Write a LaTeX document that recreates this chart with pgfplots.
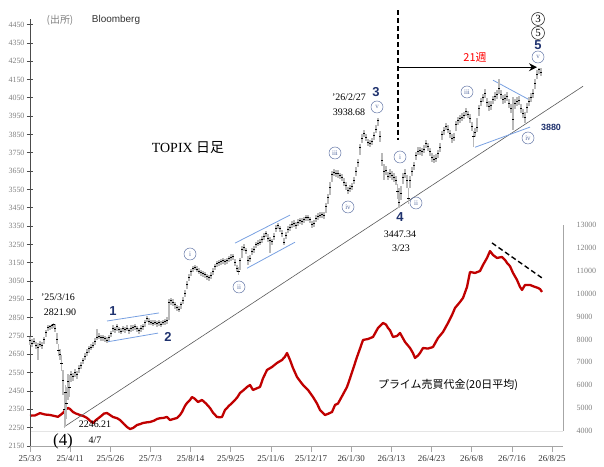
\documentclass[border=0pt]{standalone}
\usepackage{fontspec}
\setmainfont{Liberation Serif}
\newfontfamily\sans{Liberation Sans}
\newfontfamily\cjk{Noto Sans CJK JP}
\usepackage{pgfplots}
\usepackage{pgfplotstable}
\pgfplotsset{compat=1.18}
\usetikzlibrary{arrows.meta}
\definecolor{redline}{RGB}{192,0,0}
\definecolor{wblue}{RGB}{31,50,110}
\definecolor{cblue}{RGB}{95,115,165}
\definecolor{chan}{RGB}{120,160,225}

\pgfplotstableread{
x c l h
30 2728 2700 2745
32 2712 2690 2735
34 2722 2705 2740
36 2700 2680 2718
38 2690 2620 2712
40 2705 2688 2722
42 2698 2680 2720
44 2730 2705 2745
46 2772 2745 2785
48 2795 2775 2808
50 2800 2785 2812
52 2808 2790 2818
53.5 2815 2795 2822
55 2790 2770 2815
57 2732 2705 2765
58.5 2670 2640 2705
60 2650 2620 2680
61.5 2600 2560 2645
63 2510 2430 2565
64.2 2350 2246 2440
65.4 2440 2262 2485
66.6 2380 2300 2470
68 2500 2400 2545
69.5 2470 2420 2535
71 2540 2500 2560
73 2528 2505 2550
75 2550 2525 2568
77 2540 2515 2560
79 2575 2550 2590
81 2590 2570 2610
83 2615 2595 2632
85 2640 2620 2655
87 2660 2640 2678
89 2680 2660 2695
91 2690 2672 2708
93 2700 2682 2718
95 2722 2700 2740
97 2745 2728 2790
99 2750 2732 2768
101 2740 2722 2755
103 2740 2725 2755
105 2735 2718 2750
107 2728 2712 2745
109 2740 2722 2758
111 2765 2745 2780
113 2790 2770 2808
115 2785 2765 2800
117 2800 2780 2815
119 2785 2765 2800
121 2778 2760 2795
123 2790 2772 2805
125 2785 2765 2800
127 2792 2775 2808
129 2780 2760 2795
131 2790 2770 2808
133 2795 2778 2810
135 2800 2782 2815
137 2790 2770 2805
139 2780 2762 2795
141 2790 2772 2808
143 2800 2782 2815
145 2822 2802 2838
147 2848 2828 2862
149 2832 2812 2848
151 2825 2808 2840
153 2820 2805 2835
155 2825 2808 2840
157 2818 2802 2832
159 2822 2806 2838
161 2816 2800 2830
163 2825 2808 2840
165 2828 2810 2842
167 2838 2818 2855
169 2932 2840 2950
171 2942 2920 2958
173 2935 2915 2952
175 2920 2900 2938
177 2905 2885 2922
179 2898 2880 2915
181 2920 2900 2938
183 2946 2925 2962
185 2985 2965 3002
187 3030 3005 3048
189 3070 3048 3088
191 3100 3080 3115
193 3118 3100 3132
195 3125 3108 3140
197 3115 3098 3130
199 3105 3088 3120
201 3098 3080 3112
203 3090 3072 3105
205 3085 3068 3100
207 3075 3058 3090
209 3068 3050 3085
211 3080 3062 3098
213 3105 3085 3122
215 3130 3110 3145
217 3145 3128 3160
219 3150 3132 3165
221 3155 3138 3170
223 3162 3145 3178
225 3155 3138 3170
227 3160 3142 3175
229 3172 3155 3188
231 3180 3162 3195
233 3185 3165 3200
235 3150 3130 3170
237 3120 3100 3140
238.5 3100 3082 3128
240 3160 3110 3178
242 3225 3175 3240
244 3235 3215 3250
246 3215 3195 3232
248 3160 3140 3185
250 3175 3155 3192
252 3210 3190 3228
254 3225 3205 3242
256 3250 3230 3265
258 3258 3240 3275
260 3262 3245 3280
262 3280 3260 3298
264 3295 3275 3312
266 3310 3290 3325
268 3285 3265 3305
270 3270 3205 3290
272 3265 3245 3282
274 3295 3272 3312
276 3340 3318 3358
278 3352 3332 3368
280 3335 3315 3352
282 3310 3290 3328
284 3262 3245 3285
286 3300 3278 3318
288 3330 3310 3348
290 3345 3325 3362
292 3360 3340 3375
294 3365 3345 3382
296 3355 3335 3372
298 3370 3350 3388
300 3380 3362 3395
302 3375 3355 3392
304 3385 3365 3402
306 3398 3378 3412
308 3395 3375 3410
310 3385 3365 3402
312 3360 3340 3378
314 3365 3345 3385
316 3392 3372 3408
318 3405 3385 3420
320 3410 3392 3425
322 3412 3395 3428
324 3408 3390 3425
326 3455 3420 3475
328 3505 3470 3525
330 3560 3520 3590
332 3630 3590 3650
334 3645 3625 3662
336 3640 3618 3658
338 3638 3615 3655
340 3625 3605 3642
342 3615 3595 3632
344 3590 3570 3610
346 3570 3548 3590
348 3545 3525 3565
350 3555 3535 3575
352 3565 3545 3585
354 3600 3578 3620
356 3650 3625 3672
358 3695 3670 3718
360 3780 3740 3800
362 3830 3805 3850
364 3855 3835 3872
366 3835 3815 3855
368 3805 3785 3825
370 3800 3780 3820
372 3810 3790 3830
374 3845 3822 3865
376 3880 3858 3900
378 3925 3895 3939
380 3840 3810 3870
382 3710 3680 3750
384 3650 3600 3690
386 3655 3630 3680
388 3620 3600 3645
390 3640 3615 3660
392 3625 3600 3648
394 3615 3590 3640
396 3600 3575 3625
397.5 3540 3500 3580
399 3480 3447 3560
401 3530 3490 3570
403 3615 3580 3640
405 3640 3615 3660
407 3600 3560 3630
408.5 3500 3470 3560
410 3600 3560 3625
412 3650 3625 3672
414 3680 3655 3702
416 3735 3708 3755
418 3760 3738 3780
420 3762 3740 3782
422 3755 3732 3775
424 3770 3748 3790
426 3800 3778 3820
428 3785 3762 3805
430 3755 3732 3775
432 3725 3702 3748
434 3715 3692 3738
436 3722 3700 3745
438 3745 3722 3765
440 3780 3755 3802
442 3850 3820 3870
444 3870 3848 3890
446 3895 3872 3915
448 3880 3858 3900
450 3855 3832 3875
452 3830 3805 3852
454 3835 3812 3858
456 3905 3870 3925
458 3925 3902 3945
460 3935 3912 3955
462 3945 3922 3965
464 3955 3932 3975
466 3975 3952 3995
468 3960 3938 3980
470 3940 3915 3962
472 3895 3870 3920
473.5 3840 3780 3870
475 3860 3835 3885
477 3890 3865 3940
479 3990 3950 4010
481 4030 4005 4050
483 4050 4025 4070
485 4075 4050 4100
487 4025 4000 4050
489 4005 3980 4030
491 4010 3985 4035
493 4040 4015 4062
495 4060 4035 4082
497 4070 4045 4095
499 4100 4070 4150
501 4070 4045 4095
503 4040 4015 4065
505 4045 4020 4070
507 4055 4030 4080
509 4020 3995 4045
511 3990 3965 4015
513 3930 3873 4054
515 4020 3990 4045
517 4030 4005 4055
519 4035 4010 4058
521 3990 3965 4015
523 3965 3940 3990
525 3945 3915 3975
527 3995 3965 4020
529 4030 4005 4055
531 4050 4025 4075
533 4075 4050 4100
535 4130 4100 4155
537 4180 4150 4200
539 4205 4180 4215
541 4190 4170 4210
}\price

\pgfplotstableread{
x v
30 4670
35 4680
40 4780
45 4720
50 4700
55 4650
58 4620
61 4720
63 4790
66 4950
68 5005
70 4960
73 4830
76 4760
80 4700
84 4640
87 4570
90 4450
93 4350
96 4480
100 4612
104 4760
107 4787
110 4700
113 4612
117 4560
120 4480
124 4300
127 4175
130 4087
133 4130
137 4262
140 4300
143 4350
147 4380
150 4393
154 4450
157 4524
160 4560
163 4568
167 4612
170 4480
173 4520
177 4568
180 4700
182 4830
185 5100
187 5223
190 5354
192 5486
195 5400
198 5267
202 5355
206 5200
210 5005
213 4800
217 4612
220 4600
222 4612
225 4918
229 5100
233 5267
237 5450
240 5660
244 5800
247 5923
250 6010
253 5792
256 5850
260 5923
263 6300
267 6666
272 6797
277 6972
282 7103
285 7250
287 7409
290 7103
293 6750
297 6360
300 6180
303 6010
308 5792
313 5486
317 5200
320 4918
323 4787
325 4700
328 4750
332 4830
335 5136
338 5200
343 5600
347 5923
350 6300
353 6700
357 7234
360 7600
363 7977
368 8020
373 8108
378 8501
383 8720
386 8650
388 8501
390 8400
393 8108
397 8150
400 8283
405 7890
410 7627
413 7400
415 7190
418 7300
420 7409
423 7627
428 7600
433 7671
438 8064
443 8326
448 8720
452 9069
455 9375
460 9637
463 9812
467 10293
470 10948
475 10905
480 10990
483 11254
487 11560
490 11860
493 11691
497 11560
502 11604
505 11473
507 11342
510 11200
513 10905
517 10599
520 10293
522 10162
525 10380
530 10380
535 10293
538 10250
540 10200
542 10075
}\turnover

\newcommand{\cir}[3]{\node[circle, draw=cblue, text=cblue, line width=0.5pt, inner sep=0pt, minimum size=12bp, font=\fontsize{7}{7}\selectfont] at (#1,#2) {#3};}
\newcommand{\bcir}[3]{\node[circle, draw=black!80, text=black, line width=0.6pt, inner sep=0pt, minimum size=13bp, font=\fontsize{11}{11}\selectfont] at (#1,#2) {#3};}

\begin{document}
\begin{tikzpicture}[x=1bp,y=1bp]
\useasboundingbox (0,0) rectangle (604,467);

% secondary axis: turnover
\begin{axis}[at={(30bp,36bp)}, anchor=south west, scale only axis,
  width=533bp, height=206bp, xmin=30, xmax=563, ymin=4000, ymax=13000,
  axis y line*=right, axis x line*=bottom,
  x axis line style={draw=gray!20, line width=0.8pt, -},
  y axis line style={draw=gray!70, line width=1pt, -},
  xtick=\empty, ytick={4000,5000,...,13000},
  scaled y ticks=false,
  major tick length=0pt,
  yticklabel style={font=\fontsize{8}{9}\selectfont, text=gray, xshift=10bp},
  /pgf/number format/1000 sep={}, /pgf/number format/assume math mode=true,
  clip=false]
\addplot[redline, line width=2.3pt, line join=round] table[x=x, y=v] {\turnover};
\addplot[black, line width=1.4pt, dash pattern=on 5pt off 3pt] coordinates {(492,12216) (542,10686)};
\end{axis}

% main axis: TOPIX
\begin{axis}[at={(30bp,21bp)}, anchor=south west, scale only axis,
  width=533bp, height=427bp, xmin=30, xmax=563, ymin=2150, ymax=4480,
  axis x line*=bottom, axis y line*=left,
  x axis line style={draw=gray!70, line width=0.8pt, -},
  y axis line style={draw=black!70, line width=0.8pt, -},
  ytick={2150,2250,...,4450},
  xtick={30,70.15,110.3,150.45,190.6,230.75,270.9,311.05,351.2,391.35,431.5,471.65,511.8,551.95},
  xticklabels={25/3/3,25/4/11,25/5/26,25/7/3,25/8/14,25/9/25,25/11/6,25/12/17,26/1/30,26/3/13,26/4/23,26/6/8,26/7/16,26/8/25},
  y tick style={draw=black!70, line width=0.6pt},
  x tick style={draw=gray!70, line width=0.6pt},
  ytick align=center, xtick align=outside,
  major tick length=6bp,
  yticklabel style={font=\fontsize{8}{9}\selectfont, text=gray, xshift=1bp},
  xticklabel style={font=\fontsize{9}{10}\selectfont, text=black!80},
  /pgf/number format/1000 sep={}, /pgf/number format/assume math mode=true,
  clip=false]
% trend line
\addplot[black!65, line width=0.6pt] coordinates {(64,2254) (583,4113)};
% channels
\addplot[chan, line width=0.8pt] coordinates {(107,2832) (159,2876)};
\addplot[chan, line width=0.8pt] coordinates {(107,2718) (158,2766)};
\addplot[chan, line width=0.8pt] coordinates {(235,3257) (290,3410)};
\addplot[chan, line width=0.8pt] coordinates {(247,3120) (295,3262)};
\addplot[chan, line width=0.8pt] coordinates {(493,4146) (530,4037)};
\addplot[chan, line width=0.8pt] coordinates {(475,3780) (530,3890)};
% candles
\addplot[only marks, mark=-, mark size=1.2bp, black, mark options={line width=0.8pt},
  error bars/.cd, y dir=both, y explicit, error mark=none,
  error bar style={gray!55, line width=1.1pt}]
  table[x=x, y=c, y error plus expr=\thisrow{h}-\thisrow{c}, y error minus expr=\thisrow{c}-\thisrow{l}] {\price};
% 21 week marker
\addplot[black, line width=1.5pt, dash pattern=on 5pt off 3pt] coordinates {(398,4528) (398,3819)};
\addplot[black, line width=1.3pt, -{Stealth[length=8pt,width=8pt]}] coordinates {(399,4217) (537,4217)};
\end{axis}

% annotations
\node[font=\cjk\fontsize{10}{10}\selectfont, text=gray] at (60,447) {(出所)};
\node[font=\sans\fontsize{10}{10}\selectfont, text=black!80] at (116,447) {Bloomberg};
\node[font=\fontsize{14}{14}\selectfont] at (188,319) {TOPIX {\cjk 日足}};
\node[font=\fontsize{10}{10}\selectfont] at (58,170) {'25/3/16};
\node[font=\fontsize{10}{10}\selectfont] at (60,155) {2821.90};
\node[font=\fontsize{17}{17}\selectfont] at (63,26) {(4)};
\node[font=\fontsize{10}{10}\selectfont] at (95,43) {2246.21};
\node[font=\fontsize{10}{10}\selectfont] at (95,27) {4/7};
\node[font=\sans\bfseries\fontsize{13}{13}\selectfont, text=wblue] at (113,156) {1};
\node[font=\sans\bfseries\fontsize{13}{13}\selectfont, text=wblue] at (168,130) {2};
\cir{190}{213}{i}
\cir{239}{180}{ii}
\cir{335}{314}{iii}
\cir{348}{260}{iv}
\cir{377}{360}{v}
\node[font=\sans\bfseries\fontsize{13}{13}\selectfont, text=wblue] at (376,375) {3};
\node[font=\fontsize{10}{10}\selectfont] at (349,370) {'26/2/27};
\node[font=\fontsize{10}{10}\selectfont] at (349,355) {3938.68};
\cir{400}{310}{i}
\cir{416}{264}{ii}
\node[font=\sans\bfseries\fontsize{13}{13}\selectfont, text=wblue] at (400,250) {4};
\node[font=\fontsize{10}{10}\selectfont] at (400,233) {3447.34};
\node[font=\fontsize{10}{10}\selectfont] at (401,219) {3/23};
\cir{467}{375}{iii}
\cir{528}{329}{iv}
\node[font=\sans\bfseries\fontsize{9}{9}\selectfont, text=wblue] at (551,340) {3880};
\cir{538}{410}{v}
\node[font=\sans\bfseries\fontsize{13}{13}\selectfont, text=wblue] at (538,422) {5};
\bcir{538}{434}{5}
\bcir{538}{448}{3}
\node[font=\cjk\fontsize{11}{11}\selectfont, text=red] at (475,410) {21週};
\node[font=\cjk\fontsize{11}{11}\selectfont] at (448,82) {プライム売買代金(20日平均)};
\end{tikzpicture}
\end{document}
